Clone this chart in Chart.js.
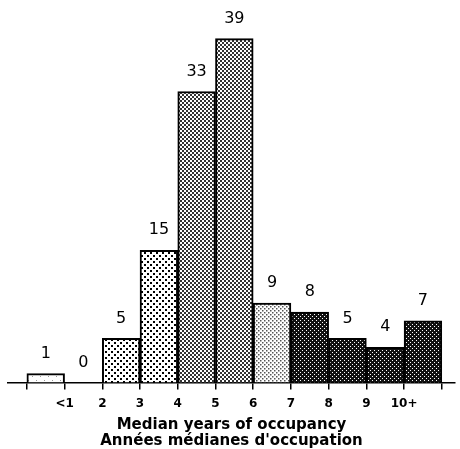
<!DOCTYPE html>
<html>
<head>
<meta charset="utf-8">
<script src="https://cdn.jsdelivr.net/npm/chart.js@4"></script>
<style>
  html, body { margin: 0; padding: 0; background: #fff; }
  #wrap { width: 460px; height: 449px; }
</style>
</head>
<body>
<div id="wrap"><canvas id="occChart"></canvas></div>
<script>
// one bar per year bin, starting at the left edge of each bin
const binStarts = [0, 1, 2, 3, 4, 5, 6, 7, 8, 9, 10];
const counts = [1, 0, 5, 15, 33, 39, 9, 8, 5, 4, 7];
// labels sit on the bin boundaries 0..11
const tickLabels = ["", "<1", "2", "3", "4", "5", "6", "7", "8", "9", "10+", ""];
const axisTitle = ["Median years of occupancy", "Années médianes d'occupation"];

// dotted screen fills, tile size / background / dot colour / dot size
function dots(size, bg, fg, r) {
  const c = document.createElement("canvas");
  c.width = size;
  c.height = size;
  const g = c.getContext("2d");
  g.fillStyle = bg;
  g.fillRect(0, 0, size, size);
  g.fillStyle = fg;
  g.fillRect(0, 0, r, r);
  g.fillRect(size / 2, size / 2, r, r);
  return g.createPattern(c, "repeat");
}

const fills = [
  dots(8, "#fff", "#999", 1),
  "#fff",
  dots(6, "#fff", "#000", 2),
  dots(6, "#fff", "#000", 2),
  dots(4, "#fff", "#333", 2),
  dots(4, "#fff", "#333", 2),
  dots(4, "#fff", "#555", 1.5),
  dots(4, "#111", "#fff", 1),
  dots(4, "#111", "#fff", 1),
  dots(4, "#111", "#fff", 1),
  dots(4, "#111", "#fff", 1)
];

// count printed above each bar
const valueLabels = {
  id: "valueLabels",
  afterDatasetsDraw(chart) {
    const ctx = chart.ctx;
    const meta = chart.getDatasetMeta(0);
    ctx.save();
    ctx.font = "16px 'DejaVu Sans'";
    ctx.fillStyle = "#000";
    ctx.textAlign = "center";
    ctx.textBaseline = "middle";
    meta.data.forEach((bar, i) => {
      ctx.fillText(String(counts[i]), bar.x, bar.y - 20);
    });
    ctx.restore();
  }
};

new Chart(document.getElementById("occChart"), {
  type: "bar",
  data: {
    datasets: [{
      data: binStarts.map((x, i) => ({ x: x + 0.5, y: counts[i] })),
      backgroundColor: fills,
      borderColor: "#000",
      borderWidth: 2,
      categoryPercentage: 1,
      barPercentage: 1
    }]
  },
  options: {
    responsive: true,
    maintainAspectRatio: false,
    animation: false,
    layout: { padding: { left: 8, right: 5, top: 21, bottom: 0 } },
    plugins: {
      legend: { display: false },
      tooltip: { enabled: false }
    },
    scales: {
      x: {
        type: "linear",
        offset: false,
        min: -0.5,
        max: 11.35,
        afterBuildTicks: (scale) => {
          scale.ticks = tickLabels.map((_, v) => ({ value: v }));
        },
        ticks: {
          autoSkip: false,
          maxRotation: 0,
          padding: 8,
          color: "#000",
          font: { family: "'DejaVu Sans'", size: 12, weight: "bold", lineHeight: 1 },
          callback: (v) => tickLabels[v]
        },
        grid: {
          offset: false,
          drawOnChartArea: false,
          drawTicks: true,
          tickLength: 7,
          color: "#000",
          lineWidth: 1.5
        },
        border: { display: true, color: "#000", width: 1.5 },
        title: {
          display: true,
          text: axisTitle,
          color: "#000",
          font: { family: "'DejaVu Sans'", size: 15, weight: "bold", lineHeight: 1.05 },
          padding: { top: 0, bottom: 0 }
        }
      },
      y: {
        display: false,
        min: 0,
        max: 41
      }
    }
  },
  plugins: [valueLabels]
});
</script>
</body>
</html>
